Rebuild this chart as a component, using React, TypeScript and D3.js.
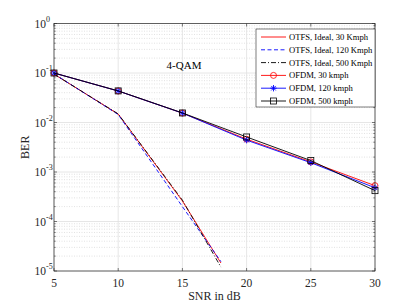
import React from "react";
import * as d3 from "d3";

const snrOtfs = [5, 10, 15, 18];
const otfs30 = [0.095, 0.0148, 0.00026, 1.45e-5];
const otfs120 = [0.096, 0.0145, 0.0002, 1.55e-5];
const otfs500 = [0.095, 0.0149, 0.00027, 1.2e-5];
const snrOfdm = [5, 10, 15, 20, 25, 30];
const ofdm30 = [0.1, 0.0433, 0.0155, 0.0046, 0.0016, 0.00053];
const ofdm120 = [0.1, 0.0433, 0.0155, 0.0044, 0.00154, 0.00048];
const ofdm500 = [0.1, 0.0435, 0.0156, 0.0051, 0.0017, 0.00042];
const xTicks = [5, 10, 15, 20, 25, 30];
const yExps = [0, -1, -2, -3, -4, -5];
const legendLabels = [
  "OTFS, Ideal, 30 Kmph",
  "OTFS, Ideal, 120 Kmph",
  "OTFS, Ideal, 500 Kmph",
  "OFDM, 30 kmph",
  "OFDM, 120 kmph",
  "OFDM, 500 kmph",
];

const W = 415, H = 305;
const L = 54, R = 375, T = 23.5, B = 271;
const FONT = "'Liberation Serif', 'Times New Roman', serif";
const AX = "#262626";

type S = { x: number[]; y: number[]; color: string; dash?: string; marker?: string };

const series: S[] = [
  { x: snrOtfs, y: otfs30, color: "#ff0000" },
  { x: snrOtfs, y: otfs120, color: "#0000ff", dash: "4,2.5" },
  { x: snrOtfs, y: otfs500, color: "#000000", dash: "5,2,1,2" },
  { x: snrOfdm, y: ofdm30, color: "#ff0000", marker: "o" },
  { x: snrOfdm, y: ofdm120, color: "#0000ff", marker: "*" },
  { x: snrOfdm, y: ofdm500, color: "#000000", marker: "s" },
];

function Marker({ type, cx, cy, color }: { type?: string; cx: number; cy: number; color: string }) {
  if (!type) return null;
  if (type === "o") return <circle cx={cx} cy={cy} r={3} fill="none" stroke={color} strokeWidth={0.8} />;
  if (type === "s") return <rect x={cx - 3} y={cy - 3} width={6} height={6} fill="none" stroke={color} strokeWidth={0.8} />;
  const r = 3.2;
  const d = `M${cx - r},${cy}H${cx + r}M${cx},${cy - r}V${cy + r}M${cx - r * 0.7},${cy - r * 0.7}L${cx + r * 0.7},${cy + r * 0.7}M${cx - r * 0.7},${cy + r * 0.7}L${cx + r * 0.7},${cy - r * 0.7}`;
  return <path d={d} stroke={color} strokeWidth={0.9} fill="none" />;
}

export default function App() {
  const x = d3.scaleLinear().domain([5, 30]).range([L, R]);
  const y = d3.scaleLog().domain([1e-5, 1]).range([B, T]);
  const line = d3.line<[number, number]>().x((d) => x(d[0])).y((d) => y(d[1]));

  const minor: number[] = [];
  for (let e = -5; e < 0; e++) for (let m = 2; m <= 9; m++) minor.push(m * Math.pow(10, e));

  const legX = 256, legY = 29, legW = 119, rowH = 12.8;
  const legH = 8 + rowH * 5 + 6;

  return (
    <svg width={W} height={H} style={{ position: "absolute", left: 0, top: 0, background: "#fff" }} fontFamily={FONT}>
      <rect x={0} y={0} width={W} height={H} fill="#fff" />
      {minor.map((v, i) => (
        <line key={"mg" + i} x1={L} x2={R} y1={y(v)} y2={y(v)} stroke="#cfcfcf" strokeWidth={0.6} strokeDasharray="1,1.5" />
      ))}
      {yExps.map((e) => (
        <line key={"gy" + e} x1={L} x2={R} y1={y(Math.pow(10, e))} y2={y(Math.pow(10, e))} stroke="#e0e0e0" strokeWidth={0.8} />
      ))}
      {xTicks.map((t) => (
        <line key={"gx" + t} x1={x(t)} x2={x(t)} y1={T} y2={B} stroke="#e0e0e0" strokeWidth={0.8} />
      ))}
      {xTicks.map((t) => (
        <g key={"tx" + t}>
          <line x1={x(t)} x2={x(t)} y1={B} y2={B - 3} stroke={AX} strokeWidth={0.6} />
          <line x1={x(t)} x2={x(t)} y1={T} y2={T + 3} stroke={AX} strokeWidth={0.6} />
          <text x={x(t)} y={287} fontSize={11.5} textAnchor="middle" fill={AX}>{t}</text>
        </g>
      ))}
      {minor.map((v, i) => (
        <g key={"mt" + i}>
          <line x1={L} x2={L + 1.8} y1={y(v)} y2={y(v)} stroke={AX} strokeWidth={0.5} />
          <line x1={R} x2={R - 1.8} y1={y(v)} y2={y(v)} stroke={AX} strokeWidth={0.5} />
        </g>
      ))}
      {yExps.map((e) => (
        <g key={"ty" + e}>
          <line x1={L} x2={L + 3} y1={y(Math.pow(10, e))} y2={y(Math.pow(10, e))} stroke={AX} strokeWidth={0.6} />
          <line x1={R} x2={R - 3} y1={y(Math.pow(10, e))} y2={y(Math.pow(10, e))} stroke={AX} strokeWidth={0.6} />
          <text x={46} y={y(Math.pow(10, e)) + 4} fontSize={11.5} textAnchor="end" fill={AX}>10</text>
          <text x={46} y={y(Math.pow(10, e)) - 2} fontSize={8} textAnchor="start" fill={AX}>{e}</text>
        </g>
      ))}
      {series.map((s, i) => (
        <g key={"s" + i}>
          <path
            d={line(s.x.map((v, j) => [v, s.y[j]] as [number, number])) || ""}
            fill="none"
            stroke={s.color}
            strokeWidth={0.9}
            strokeDasharray={s.dash}
          />
          {s.x.map((v, j) => (
            <Marker key={j} type={s.marker} cx={x(v)} cy={y(s.y[j])} color={s.color} />
          ))}
        </g>
      ))}
      <rect x={L} y={T} width={R - L} height={B - T} fill="none" stroke={AX} strokeWidth={0.7} />
      <text x={(L + R) / 2} y={300} fontSize={12} textAnchor="middle" fill={AX}>SNR in dB</text>
      <text transform={`translate(29,${(T + B) / 2}) rotate(-90)`} fontSize={12} textAnchor="middle" fill={AX}>BER</text>
      <text x={184} y={69} fontSize={11} textAnchor="middle" fill="#000">4-QAM</text>
      <rect x={legX} y={legY} width={legW} height={legH} fill="#fff" stroke={AX} strokeWidth={0.6} />
      {series.map((s, i) => {
        const cy = legY + 8 + i * rowH;
        return (
          <g key={"lg" + i}>
            <line x1={legX + 5} x2={legX + 30} y1={cy} y2={cy} stroke={s.color} strokeWidth={0.9} strokeDasharray={s.dash} />
            <Marker type={s.marker} cx={legX + 17.5} cy={cy} color={s.color} />
            <text x={legX + 33} y={cy + 3} fontSize={8.6} fill="#000">{legendLabels[i]}</text>
          </g>
        );
      })}
    </svg>
  );
}
